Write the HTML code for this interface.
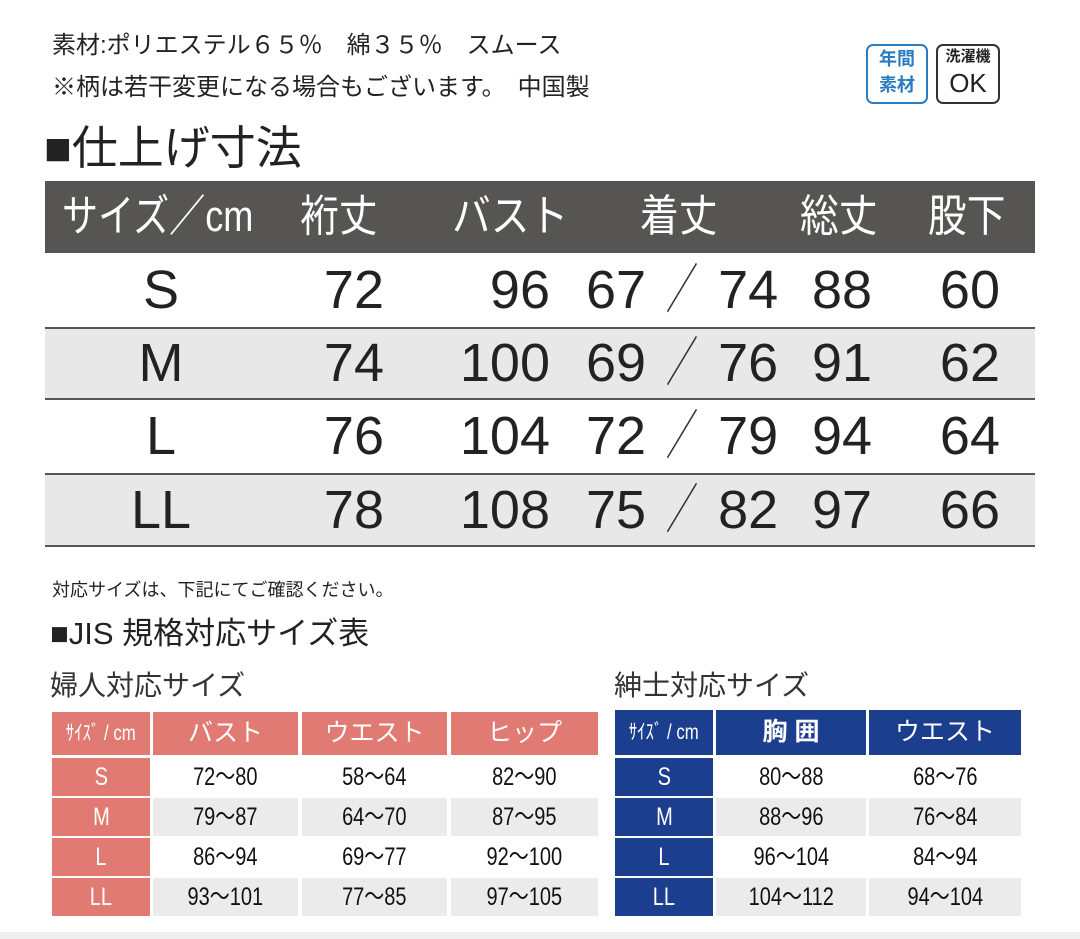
<!DOCTYPE html>
<html><head><meta charset="utf-8"><style>
body{margin:0;width:1080px;height:939px;background:#fff;position:relative;overflow:hidden;font-family:"Liberation Sans","Noto Sans CJK JP",sans-serif;color:#222}
.a{position:absolute;white-space:nowrap}
.c{text-align:center}
.r{text-align:right}
.n{font-size:54px;line-height:54px;color:#222}
.h{font-size:44px;color:#fff;line-height:72px;top:181px;transform:scaleX(.88);transform-origin:left}
.w{position:absolute;height:38px;line-height:38px;text-align:center;font-size:25px;color:#111}
.w span{display:inline-block;transform:scaleX(.8)}
.sl{display:inline-block;font-weight:300;transform:scaleX(.6);margin:0 -6px;color:#333}
</style></head><body>
<div class="a" style="left:52px;top:30px;font-size:24px;line-height:32px">素材:ポリエステル６５％　綿３５％　スムース</div>
<div class="a" style="left:52px;top:72px;font-size:24px;line-height:32px">※柄は若干変更になる場合もございます。　中国製</div>
<div class="a c" style="left:866px;top:44px;width:58px;height:56px;border:2px solid #2a7cc0;border-radius:7px;color:#2a7cc0;font-size:18px;line-height:26px;font-weight:bold">年間<br>素材</div>
<div class="a c" style="left:936px;top:44px;width:60px;height:56px;border:2px solid #333;border-radius:7px;font-size:15px;line-height:22px;font-weight:bold">洗濯機<br><span style="font-size:26px;font-weight:normal;line-height:30px">OK</span></div>
<div class="a" style="left:44px;top:118px;font-size:46px;line-height:60px;color:#222">■仕上げ寸法</div>
<div class="a" style="left:45px;top:181px;width:990px;height:72px;background:#575554"></div>
<div class="a" style="left:45px;top:327px;width:990px;height:73px;background:#e8e8e8;border-top:2px solid #555;border-bottom:2px solid #555;box-sizing:border-box"></div>
<div class="a" style="left:45px;top:473px;width:990px;height:74px;background:#e8e8e8;border-top:2px solid #555;border-bottom:2px solid #555;box-sizing:border-box"></div>
<div class="a h" style="left:62px;transform:scaleX(.82)">サイズ／cm</div>
<div class="a h" style="left:300px">裄丈</div>
<div class="a h" style="left:452px">バスト</div>
<div class="a h" style="left:640px">着丈</div>
<div class="a h" style="left:800px">総丈</div>
<div class="a h" style="left:928px">股下</div>

<div class="a n c" style="left:111px;width:100px;top:263px">S</div>
<div class="a n c" style="left:111px;width:100px;top:336px">M</div>
<div class="a n c" style="left:111px;width:100px;top:409px">L</div>
<div class="a n c" style="left:111px;width:100px;top:483px">LL</div>
<div class="a n r" style="left:284px;width:100px;top:263px">72</div>
<div class="a n r" style="left:284px;width:100px;top:336px">74</div>
<div class="a n r" style="left:284px;width:100px;top:409px">76</div>
<div class="a n r" style="left:284px;width:100px;top:483px">78</div>
<div class="a n r" style="left:450px;width:100px;top:263px">96</div>
<div class="a n r" style="left:450px;width:100px;top:336px">100</div>
<div class="a n r" style="left:450px;width:100px;top:409px">104</div>
<div class="a n r" style="left:450px;width:100px;top:483px">108</div>
<div class="a n" style="left:586px;top:263px">67 <span class="sl">／</span> 74</div>
<div class="a n" style="left:586px;top:336px">69 <span class="sl">／</span> 76</div>
<div class="a n" style="left:586px;top:409px">72 <span class="sl">／</span> 79</div>
<div class="a n" style="left:586px;top:483px">75 <span class="sl">／</span> 82</div>
<div class="a n" style="left:812px;top:263px">88</div>
<div class="a n" style="left:812px;top:336px">91</div>
<div class="a n" style="left:812px;top:409px">94</div>
<div class="a n" style="left:812px;top:483px">97</div>
<div class="a n r" style="left:900px;width:100px;top:263px">60</div>
<div class="a n r" style="left:900px;width:100px;top:336px">62</div>
<div class="a n r" style="left:900px;width:100px;top:409px">64</div>
<div class="a n r" style="left:900px;width:100px;top:483px">66</div>

<div class="a" style="left:52px;top:578px;font-size:18px;line-height:24px">対応サイズは、下記にてご確認ください。</div>
<div class="a" style="left:50px;top:614px;font-size:31px;line-height:40px">■JIS 規格対応サイズ表</div>
<div class="a" style="left:50px;top:668px;font-size:28px;line-height:36px;color:#333">婦人対応サイズ</div>
<div class="a" style="left:614px;top:668px;font-size:28px;line-height:36px;color:#333">紳士対応サイズ</div>

<div class="w" style="left:52px;top:712px;width:98px;height:43px;line-height:43px;background:#e07a72;color:#fff;font-size:21px"><span>ｻｲｽﾞ / cm</span></div>
<div class="w" style="left:153px;top:712px;width:145px;height:43px;line-height:43px;background:#e07a72;color:#fff">バスト</div>
<div class="w" style="left:302px;top:712px;width:145px;height:43px;line-height:43px;background:#e07a72;color:#fff">ウエスト</div>
<div class="w" style="left:451px;top:712px;width:147px;height:43px;line-height:43px;background:#e07a72;color:#fff">ヒップ</div>
<div class="w" style="left:615px;top:710px;width:98px;height:45px;line-height:45px;background:#1b3f8e;color:#fff;font-size:21px"><span>ｻｲｽﾞ / cm</span></div>
<div class="w" style="left:716px;top:710px;width:150px;height:45px;line-height:45px;background:#1b3f8e;color:#fff;font-weight:bold">胸 囲</div>
<div class="w" style="left:869px;top:710px;width:152px;height:45px;line-height:45px;background:#1b3f8e;color:#fff">ウエスト</div>

<div class="w" style="left:52px;top:758px;width:98px;background:#e07a72;color:#fff"><span>S</span></div>
<div class="w" style="left:52px;top:798px;width:98px;background:#e07a72;color:#fff"><span>M</span></div>
<div class="w" style="left:52px;top:838px;width:98px;background:#e07a72;color:#fff"><span>L</span></div>
<div class="w" style="left:52px;top:878px;width:98px;background:#e07a72;color:#fff"><span>LL</span></div>
<div class="w" style="left:153px;top:758px;width:145px"><span>72～80</span></div>
<div class="w" style="left:302px;top:758px;width:145px"><span>58～64</span></div>
<div class="w" style="left:451px;top:758px;width:147px"><span>82～90</span></div>
<div class="w" style="left:153px;top:798px;width:145px;background:#ebebeb"><span>79～87</span></div>
<div class="w" style="left:302px;top:798px;width:145px;background:#ebebeb"><span>64～70</span></div>
<div class="w" style="left:451px;top:798px;width:147px;background:#ebebeb"><span>87～95</span></div>
<div class="w" style="left:153px;top:838px;width:145px"><span>86～94</span></div>
<div class="w" style="left:302px;top:838px;width:145px"><span>69～77</span></div>
<div class="w" style="left:451px;top:838px;width:147px"><span>92～100</span></div>
<div class="w" style="left:153px;top:878px;width:145px;background:#ebebeb"><span>93～101</span></div>
<div class="w" style="left:302px;top:878px;width:145px;background:#ebebeb"><span>77～85</span></div>
<div class="w" style="left:451px;top:878px;width:147px;background:#ebebeb"><span>97～105</span></div>

<div class="w" style="left:615px;top:758px;width:98px;background:#1b3f8e;color:#fff"><span>S</span></div>
<div class="w" style="left:615px;top:798px;width:98px;background:#1b3f8e;color:#fff"><span>M</span></div>
<div class="w" style="left:615px;top:838px;width:98px;background:#1b3f8e;color:#fff"><span>L</span></div>
<div class="w" style="left:615px;top:878px;width:98px;background:#1b3f8e;color:#fff"><span>LL</span></div>
<div class="w" style="left:716px;top:758px;width:150px"><span>80～88</span></div>
<div class="w" style="left:869px;top:758px;width:152px"><span>68～76</span></div>
<div class="w" style="left:716px;top:798px;width:150px;background:#ebebeb"><span>88～96</span></div>
<div class="w" style="left:869px;top:798px;width:152px;background:#ebebeb"><span>76～84</span></div>
<div class="w" style="left:716px;top:838px;width:150px"><span>96～104</span></div>
<div class="w" style="left:869px;top:838px;width:152px"><span>84～94</span></div>
<div class="w" style="left:716px;top:878px;width:150px;background:#ebebeb"><span>104～112</span></div>
<div class="w" style="left:869px;top:878px;width:152px;background:#ebebeb"><span>94～104</span></div>
<div class="a" style="left:0;top:932px;width:1080px;height:7px;background:#eee"></div>
</body></html>
